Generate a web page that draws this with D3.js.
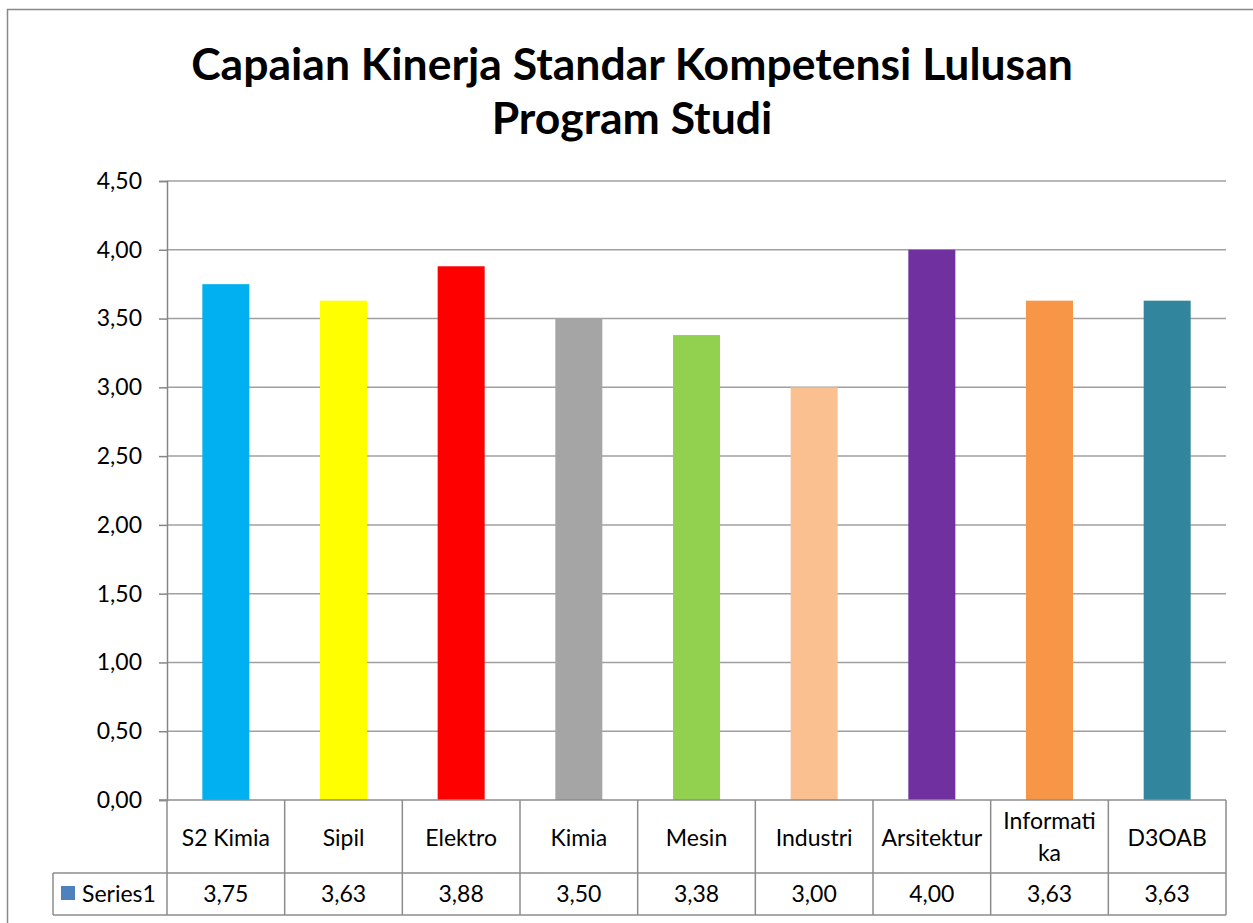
<!DOCTYPE html>
<html>
<head>
<meta charset="utf-8">
<script src="https://d3js.org/d3.v7.min.js"></script>
<style>
  body { margin: 0; background: #fff; }
  text { font-family: Lato, "Open Sans", sans-serif; fill: #000; }
</style>
</head>
<body>
<script>
// chart data
var categories = ["S2 Kimia", "Sipil", "Elektro", "Kimia", "Mesin", "Industri", "Arsitektur", "Informatika", "D3OAB"];
var labelLines = [["S2 Kimia"], ["Sipil"], ["Elektro"], ["Kimia"], ["Mesin"], ["Industri"], ["Arsitektur"], ["Informati", "ka"], ["D3OAB"]];
var values = [3.75, 3.63, 3.88, 3.50, 3.38, 3.00, 4.00, 3.63, 3.63];
var barColors = ["#00b0f0", "#ffff00", "#ff0000", "#a5a5a5", "#92d050", "#fac090", "#7030a0", "#f79646", "#31859c"];
var yTicks = [0, 0.5, 1, 1.5, 2, 2.5, 3, 3.5, 4, 4.5];
var seriesName = "Series1";
var titleLines = ["Capaian Kinerja Standar Kompetensi Lulusan", "Program Studi"];

function draw() {
  var W = 1253, H = 923;
  var pl = 167, pr = 1226, pt = 181, pb = 800;
  var row1 = 873, row2 = 915, tableLeft = 53;
  var fs = "23px";

  var fmt = function (v) { return v.toFixed(2).replace(".", ","); };

  var svg = d3.select("body").append("svg")
    .attr("width", W).attr("height", H);

  // outer chart border
  svg.append("rect")
    .attr("x", 7.5).attr("y", 9.5)
    .attr("width", W + 20).attr("height", H + 20)
    .attr("fill", "#fff").attr("stroke", "#898989").attr("stroke-width", 1.5);

  // title
  svg.selectAll(".title").data(titleLines).enter().append("text")
    .attr("x", 632).attr("y", function (d, i) { return 80 + i * 54; })
    .attr("text-anchor", "middle")
    .style("font-size", "44.5px").style("font-weight", "bold")
    .text(function (d) { return d; });

  var x = d3.scaleBand().domain(categories).range([pl, pr]);
  var y = d3.scaleLinear().domain([0, 4.5]).range([pb, pt]);

  // gridlines
  svg.append("g").selectAll("line").data(yTicks.slice(1)).enter().append("line")
    .attr("x1", pl).attr("x2", pr)
    .attr("y1", function (d) { return y(d); }).attr("y2", function (d) { return y(d); })
    .attr("stroke", "#a0a0a0").attr("stroke-width", 1.5);

  // bars
  var barW = 47;
  svg.append("g").selectAll("rect").data(values).enter().append("rect")
    .attr("x", function (d, i) { return x(categories[i]) + x.bandwidth() / 2 - barW / 2; })
    .attr("y", function (d) { return y(d); })
    .attr("width", barW)
    .attr("height", function (d) { return pb - y(d); })
    .attr("fill", function (d, i) { return barColors[i]; });

  // y axis
  var yAxis = d3.axisLeft(y).tickValues(yTicks).tickSize(8).tickPadding(17).tickFormat(fmt);
  var ga = svg.append("g").attr("transform", "translate(" + pl + ",0)").call(yAxis);
  ga.select(".domain").attr("stroke", "#868686").attr("stroke-width", 1.5);
  ga.selectAll(".tick line").attr("stroke", "#868686").attr("stroke-width", 1.5);
  ga.selectAll(".tick text").style("font-size", fs).style("font-family", "Lato, sans-serif").attr("fill", "#000");

  // data table grid
  var grid = svg.append("g").attr("stroke", "#8c8c8c").attr("stroke-width", 1.5);
  grid.append("line").attr("x1", pl - 8).attr("x2", pr).attr("y1", pb).attr("y2", pb);
  grid.append("line").attr("x1", tableLeft).attr("x2", pr).attr("y1", row1).attr("y2", row1);
  grid.append("line").attr("x1", tableLeft).attr("x2", pr).attr("y1", row2).attr("y2", row2);
  grid.append("line").attr("x1", tableLeft).attr("x2", tableLeft).attr("y1", row1).attr("y2", row2);
  grid.append("line").attr("x1", pl).attr("x2", pl).attr("y1", pb).attr("y2", row2);
  grid.selectAll(".vl").data(categories).enter().append("line")
    .attr("x1", function (d) { return x(d) + x.bandwidth(); })
    .attr("x2", function (d) { return x(d) + x.bandwidth(); })
    .attr("y1", pb).attr("y2", row2);

  // category labels
  var cl = svg.append("g").selectAll("text").data(categories).enter().append("text")
    .attr("text-anchor", "middle")
    .style("font-size", fs)
    .attr("x", function (d) { return x(d) + x.bandwidth() / 2; })
    .attr("y", function (d, i) { return labelLines[i].length > 1 ? 829 : 846; });
  cl.selectAll("tspan").data(function (d, i) { return labelLines[i]; }).enter().append("tspan")
    .attr("x", function () { return d3.select(this.parentNode).attr("x"); })
    .attr("dy", function (d, j) { return j === 0 ? 0 : 32; })
    .text(function (d) { return d; });

  // value row
  svg.append("g").selectAll("text").data(values).enter().append("text")
    .attr("text-anchor", "middle").style("font-size", fs)
    .attr("x", function (d, i) { return x(categories[i]) + x.bandwidth() / 2; })
    .attr("y", 902)
    .text(fmt);

  // legend key + series name
  svg.append("rect").attr("x", 61).attr("y", 886).attr("width", 14).attr("height", 14).attr("fill", "#4f81bd");
  svg.append("text").attr("x", 82).attr("y", 902).style("font-size", fs).text(seriesName);
}

draw();
</script>
</body>
</html>
